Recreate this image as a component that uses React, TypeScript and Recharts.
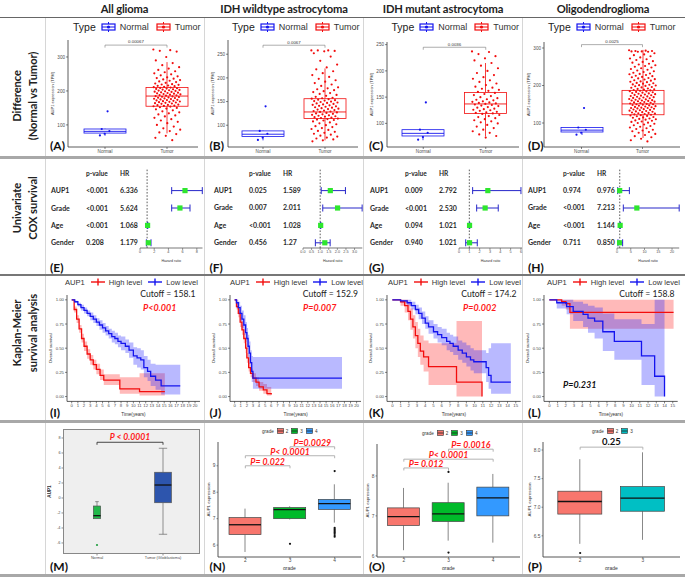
import React from 'react';
import {
  ComposedChart,
  Bar,
  Cell,
  Scatter,
  Line,
  Area,
  XAxis,
  YAxis,
  ReferenceLine,
  ReferenceDot,
  ErrorBar,
} from 'recharts';

const LATO = 'Lato, "Open Sans", sans-serif';
const SANS = '"Liberation Sans", Arial, sans-serif';
const RED = '#f20d0d';
const BLUE = '#1414ee';
const AXIS = '#333';
const TICKC = '#4d4d4d';

// ---------- row 1: AUP1 expression (TPM), Normal vs Tumor ----------
const typeGroups = ['Normal', 'Tumor'];
const normalTPM = [88, 82, 74, 69, 140];
const normalBox = [68, 76, 81, 88, 89]; // min, q1, median, q3, max
const tumorTPM = [
  [322, 320, 318, 316, 300, 290, 282, 276, 270, 266, 262, 258, 255, 252, 249, 246, 243, 240, 238, 236, 234, 232, 230, 228, 226, 224, 222, 220, 219, 218, 216, 215, 214, 212, 211, 210, 209, 208, 207, 206, 205, 204, 203, 202, 201, 200, 199, 198, 197, 196, 195, 194, 193, 192, 191, 190, 189, 188, 187, 186, 185, 184, 183, 182, 181, 180, 179, 178, 177, 176, 175, 174, 173, 172, 171, 170, 169, 168, 167, 166, 165, 164, 163, 162, 160, 159, 158, 157, 156, 155, 154, 152, 150, 148, 146, 143, 140, 137, 134, 131, 128, 125, 121, 117, 113, 109, 105, 100, 95, 90, 86, 82, 78, 73, 68, 62, 55],
  [258, 258, 258, 257, 256, 252, 245, 236, 228, 222, 218, 214, 210, 206, 202, 198, 195, 192, 189, 186, 183, 180, 178, 176, 174, 172, 170, 168, 166, 164, 162, 160, 158, 157, 156, 155, 154, 153, 152, 151, 150, 149, 148, 147, 146, 145, 144, 143, 142, 141, 140, 139, 138, 137, 136, 135, 134, 133, 132, 131, 130, 129, 128, 127, 126, 125, 124, 123, 122, 121, 120, 119, 118, 117, 116, 115, 114, 113, 112, 111, 110, 108, 106, 104, 102, 100, 98, 96, 94, 92, 90, 88, 86, 84, 82, 80, 78, 76, 74, 72, 70, 68, 66],
  [237, 236, 232, 228, 224, 220, 215, 210, 205, 200, 196, 192, 188, 185, 182, 179, 176, 173, 170, 168, 166, 164, 162, 160, 158, 156, 154, 152, 150, 148, 146, 145, 144, 142, 141, 140, 139, 138, 137, 136, 135, 134, 133, 131, 130, 128, 127, 126, 125, 124, 122, 121, 120, 119, 118, 116, 114, 112, 110, 108, 106, 104, 102, 100, 97, 94, 91, 88, 85, 82, 79, 76, 73],
  [294, 293, 292, 292, 291, 291, 290, 290, 286, 283, 281, 278, 275, 272, 270, 268, 265, 263, 261, 258, 256, 254, 252, 250, 248, 246, 244, 242, 240, 238, 236, 234, 232, 231, 230, 228, 226, 225, 223, 222, 220, 219, 217, 216, 214, 213, 211, 210, 209, 207, 206, 205, 203, 202, 201, 200, 199, 198, 196, 195, 194, 192, 191, 190, 189, 188, 187, 186, 185, 184, 183, 182, 181, 180, 179, 178, 177, 176, 175, 174, 173, 172, 171, 170, 169, 168, 167, 166, 165, 164, 163, 162, 161, 160, 160, 159, 158, 157, 156, 155, 154, 153, 152, 151, 150, 150, 149, 148, 147, 146, 145, 144, 143, 142, 141, 140, 140, 139, 138, 137, 136, 135, 134, 133, 132, 131, 130, 129, 128, 127, 126, 125, 124, 123, 122, 121, 120, 119, 118, 116, 115, 114, 112, 111, 110, 109, 107, 106, 104, 103, 101, 100, 98, 96, 94, 92, 90, 88, 86, 84, 82, 80, 78, 76, 74, 71, 68, 65, 62, 58, 54, 51],
];
const tumorBox = [
  [75, 155, 185, 210, 285],
  [68, 114, 128, 156, 220],
  [75, 119, 137, 159, 215],
  [60, 122, 151, 187, 295],
];
const diffP = ['0.00067', '0.0067', '0.0036', '0.0025'];
const diffBracket = [335, 269, 245, 309];
const diffDomain = [[35, 350], [54, 280], [55, 255], [36, 316]];
const diffTicks = [[100, 200, 300], [100, 150, 200, 250], [100, 150, 200, 250], [100, 200, 300]];
const diffLayout = [
  { x: 68, y: 40, w: 130, h: 107, padL: 6, padR: 0 },
  { x: 228, y: 40, w: 130, h: 107, padL: 4, padR: 2 },
  { x: 387, y: 42, w: 132, h: 105, padL: 5, padR: 2 },
  { x: 544, y: 42, w: 136, h: 105, padL: 7, padR: 7 },
];

// ---------- row 2: univariate Cox ----------
const coxVars = ['AUP1', 'Grade', 'Age', 'Gender'];
const coxP = [
  ['<0.001', '<0.001', '<0.001', '0.208'],
  ['0.025', '0.007', '<0.001', '0.456'],
  ['0.009', '<0.001', '0.094', '0.940'],
  ['0.974', '<0.001', '<0.001', '0.711'],
];
const coxHR = [
  ['6.336', '5.624', '1.068', '1.179'],
  ['1.589', '2.011', '1.028', '1.27'],
  ['2.792', '2.530', '1.021', '1.021'],
  ['0.976', '7.213', '1.144', '0.850'],
];
const coxLo = [
  [4.46, 4.46, 1.04, 0.9],
  [1.06, 1.15, 1.015, 0.72],
  [1.32, 1.71, 1.0, 0.65],
  [0.25, 2.3, 1.08, 0.35],
];
const coxHi = [
  [8.77, 7.04, 1.1, 1.55],
  [2.47, 3.44, 1.04, 1.58],
  [6.0, 3.8, 1.045, 1.77],
  [4.5, 22.6, 1.21, 2.05],
];
const coxTicks = [[0, 2, 4, 6, 8], [0, 0.5, 1, 1.5, 2, 2.5, 3], [0, 1, 2, 3, 4, 5, 6], [0, 5, 10, 15, 20]];
const coxLayout = [
  { x: 140, w: 62.5, domain: [0, 8.8] },
  { x: 302.5, w: 59.3, domain: [0, 3.45] },
  { x: 459, w: 63, domain: [0, 6.1] },
  { x: 617, w: 62.2, domain: [0, 22.6] },
];

// ---------- row 3: Kaplan-Meier ----------
const kmHigh = [
  {
    t: [0, 0.4, 0.8, 1.2, 1.6, 2.0, 2.5, 3.0, 3.5, 4.0, 4.6, 5.2, 7.8, 11.0, 15.1],
    s: [1, 0.9, 0.8, 0.7, 0.6, 0.52, 0.44, 0.38, 0.33, 0.28, 0.22, 0.17, 0.08, 0.05, 0.05],
    lo: [1, 0.87, 0.76, 0.66, 0.56, 0.47, 0.39, 0.33, 0.28, 0.23, 0.17, 0.12, 0.03, 0.01, 0.01],
    hi: [1, 0.93, 0.84, 0.74, 0.65, 0.57, 0.49, 0.43, 0.38, 0.34, 0.28, 0.23, 0.2, 0.24, 0.24],
  },
  {
    t: [0, 0.3, 0.6, 0.9, 1.2, 1.5, 1.8, 2.0, 2.3, 2.6, 3.0, 3.5, 4.0, 4.7, 5.3, 6.0],
    s: [1, 0.93, 0.86, 0.77, 0.69, 0.6, 0.5, 0.4, 0.3, 0.24, 0.19, 0.15, 0.1, 0.07, 0.03, 0.02],
    lo: [1, 0.9, 0.82, 0.72, 0.64, 0.55, 0.45, 0.35, 0.26, 0.2, 0.15, 0.11, 0.06, 0.03, 0.01, 0.0],
    hi: [1, 0.96, 0.9, 0.82, 0.74, 0.65, 0.55, 0.45, 0.35, 0.29, 0.24, 0.2, 0.15, 0.13, 0.1, 0.08],
  },
  {
    t: [0, 1.0, 1.5, 1.9, 2.2, 2.5, 2.8, 3.1, 3.4, 3.8, 4.4, 7.8, 10.9],
    s: [1, 0.98, 0.94, 0.88, 0.8, 0.72, 0.63, 0.55, 0.47, 0.41, 0.31, 0.15, 0.0],
    lo: [1, 0.94, 0.87, 0.79, 0.69, 0.6, 0.5, 0.41, 0.33, 0.26, 0.12, 0.0, 0.0],
    hi: [1, 1.0, 1.0, 0.97, 0.91, 0.84, 0.77, 0.7, 0.63, 0.58, 0.55, 0.78, 0.78],
  },
  {
    t: [0, 1.5, 2.0, 2.5, 15.1],
    s: [1, 0.98, 0.96, 0.87, 0.87],
    lo: [1, 0.94, 0.9, 0.7, 0.7],
    hi: [1, 1, 1, 1, 1],
  },
];
const kmLow = [
  {
    t: [0, 0.5, 1, 1.5, 2, 2.5, 3, 3.5, 4, 4.5, 5, 5.5, 6, 6.5, 7, 7.5, 8, 8.7, 9.3, 10, 10.6, 11.2, 11.7, 12.3, 12.8, 13.6, 14.5, 17.6],
    s: [1, 0.98, 0.95, 0.92, 0.89, 0.86, 0.83, 0.8, 0.77, 0.74, 0.71, 0.68, 0.65, 0.62, 0.6, 0.57, 0.55, 0.52, 0.48, 0.42, 0.4, 0.38, 0.3, 0.26, 0.21, 0.17, 0.11, 0.11],
    lo: [1, 0.97, 0.93, 0.89, 0.86, 0.83, 0.79, 0.76, 0.73, 0.69, 0.66, 0.63, 0.6, 0.56, 0.54, 0.51, 0.48, 0.45, 0.4, 0.33, 0.3, 0.28, 0.2, 0.16, 0.11, 0.07, 0.02, 0.02],
    hi: [1, 0.99, 0.97, 0.95, 0.92, 0.89, 0.87, 0.84, 0.81, 0.79, 0.76, 0.73, 0.7, 0.68, 0.66, 0.63, 0.62, 0.59, 0.56, 0.51, 0.5, 0.48, 0.42, 0.38, 0.34, 0.33, 0.33, 0.33],
  },
  {
    t: [0, 0.3, 0.6, 0.9, 1.2, 1.5, 1.8, 2.0, 2.2, 2.4, 2.6, 2.8, 3.0, 4.0, 17.6],
    s: [1, 0.97, 0.92, 0.86, 0.8, 0.74, 0.66, 0.6, 0.52, 0.45, 0.35, 0.26, 0.19, 0.19, 0.19],
    lo: [1, 0.92, 0.85, 0.78, 0.71, 0.64, 0.56, 0.49, 0.41, 0.34, 0.24, 0.15, 0.08, 0.08, 0.08],
    hi: [1, 1.0, 0.98, 0.94, 0.89, 0.84, 0.77, 0.71, 0.64, 0.57, 0.48, 0.42, 0.41, 0.41, 0.41],
  },
  {
    t: [0, 1.0, 1.8, 2.3, 2.8, 3.2, 3.6, 4.0, 4.4, 5.0, 5.5, 6.0, 6.6, 7.0, 7.4, 8.0, 8.5, 9.0, 9.5, 9.9, 11.4, 11.7, 12.0, 14.4],
    s: [1, 0.99, 0.97, 0.94, 0.9, 0.86, 0.81, 0.76, 0.72, 0.67, 0.64, 0.61, 0.57, 0.55, 0.52, 0.48, 0.45, 0.41, 0.38, 0.36, 0.3, 0.22, 0.15, 0.15],
    lo: [1, 0.97, 0.94, 0.9, 0.85, 0.8, 0.75, 0.7, 0.65, 0.6, 0.56, 0.53, 0.48, 0.46, 0.43, 0.38, 0.35, 0.31, 0.27, 0.24, 0.15, 0.08, 0.03, 0.03],
    hi: [1, 1.0, 1.0, 0.98, 0.95, 0.92, 0.88, 0.83, 0.79, 0.75, 0.72, 0.7, 0.66, 0.64, 0.62, 0.58, 0.56, 0.53, 0.5, 0.48, 0.45, 0.5, 0.55, 0.55],
  },
  {
    t: [0, 0.9, 2.1, 2.9, 4.1, 4.7, 5.5, 6.5, 7.9, 11.2, 12.8, 14.0],
    s: [1, 0.97, 0.93, 0.88, 0.85, 0.81, 0.78, 0.67, 0.57, 0.42, 0.21, 0.0],
    lo: [1, 0.91, 0.85, 0.78, 0.72, 0.66, 0.6, 0.47, 0.38, 0.12, 0.0, 0.0],
    hi: [1, 1, 1, 0.98, 0.96, 0.94, 0.92, 0.86, 0.8, 0.75, 1.0, 1.0],
  },
];
const kmCutoff = ['158.1', '152.9', '174.2', '158.8'];
const kmP = ['P<0.001', 'P=0.007', 'P=0.002', 'P=0.231'];
const kmTicks20 = [0, 1, 2, 3, 4, 5, 6, 7, 8, 9, 10, 11, 12, 13, 14, 15, 16, 17, 18, 19, 20];
const kmTicks15 = [0, 1, 2, 3, 4, 5, 6, 7, 8, 9, 10, 11, 12, 13, 14, 15];
const kmLayout = [
  { x: 67, w: 133, domain: [-0.76, 20.8], ticks: kmTicks20 },
  { x: 229.7, w: 131.5, domain: [-0.76, 20.8], ticks: kmTicks20 },
  { x: 387, w: 133.7, domain: [-0.65, 15.6], ticks: kmTicks15 },
  { x: 544, w: 133.7, domain: [-0.65, 15.6], ticks: kmTicks15 },
];

// ---------- row 4: expression by grade ----------
const mCats = ['Normal', 'Tumor (Glioblastoma)'];
const mStats = [[-2.8, -2.76, -2.36, -1.07, -0.49], [-4.84, -0.63, 1.73, 3.43, 6.63]];
const mOut = [[-6.27], []];
const gradeCats3 = ['2', '3', '4'];
const gradeCats2 = ['2', '3'];
const nStats = [[5.74, 6.4, 6.77, 7.04, 7.38], [6.97, 7.0, 7.34, 7.42, 7.47], [6.85, 7.35, 7.57, 7.73, 8.3]];
const nOut = [[], [6.05], [8.8, 6.65, 6.6, 6.55, 6.5, 6.45, 6.38, 6.32]];
const oStats = [[6.14, 6.76, 6.98, 7.2, 7.7], [6.38, 6.86, 7.05, 7.33, 7.83], [6.33, 7.0, 7.45, 7.72, 8.05]];
const oOut = [[], [8.1, 6.08], []];
const pStats = [[6.36, 6.88, 7.1, 7.28, 7.84], [6.43, 6.93, 7.16, 7.36, 7.96]];
const pOut = [[6.2], []];
const mBrackets = [{ a: 1, b: 2, y: 7.43, text: 'P < 0.0001' }];
const nBrackets = [
  { a: 1, b: 2, y: 9.0, text: 'P= 0.022' },
  { a: 1, b: 3, y: 9.38, text: 'P< 0.0001' },
  { a: 2, b: 3, y: 9.72, text: 'P=0.0029' },
];
const oBrackets = [
  { a: 1, b: 2, y: 8.2, text: 'P= 0.012' },
  { a: 1, b: 3, y: 8.42, text: 'P< 0.0001' },
  { a: 2, b: 3, y: 8.67, text: 'P= 0.0016' },
];
const pBrackets = [{ a: 1, b: 2, y: 8.05, text: '0.25' }];

const GRADE2 = '#f8766d';
const GRADE3 = '#00ba2a';
const GRADE4 = '#3399ff';
const TEAL = '#00bfc4';

// horizontal jitter offset for strip points (presentation only)
const spread = (k: number, w: number) => (((k * 0.6180339) % 1) - 0.5) * 2 * w;

function Txt({ x, y, children, size = 8, weight = 400, italic = false, color = '#222', font = LATO, align = 'center', rotate = 0, ls = 0 }: any) {
  const tx = align === 'center' ? '-50%' : align === 'right' ? '-100%' : '0';
  return (
    <div
      style={{
        position: 'absolute',
        left: x,
        top: y,
        transform: `translate(${tx}, -50%) rotate(${rotate}deg)`,
        fontSize: size,
        fontWeight: weight,
        fontStyle: italic ? 'italic' : 'normal',
        letterSpacing: ls,
        color,
        fontFamily: font,
        whiteSpace: 'nowrap',
        lineHeight: 1,
      }}
    >
      {children}
    </div>
  );
}

// box drawn inside the [min,max] range bar
const boxShape = (opt: any) => (props: any) => {
  const { x, y, width, height, payload, index } = props;
  if (!payload || !payload.stats) return null;
  const [mn, q1, md, q3, mx] = payload.stats;
  const h = Math.abs(height);
  const yy = (v: number) => y + (h * (mx - v)) / (mx - mn || 1);
  const cx = x + width / 2;
  const bw = Array.isArray(opt.width) ? opt.width[index] : opt.width;
  const stroke = opt.stroke[index];
  const fill = opt.fill[index];
  const capW = opt.caps ? bw * 0.5 : 0;
  return (
    <g>
      <line x1={cx} x2={cx} y1={yy(mx)} y2={yy(q3)} stroke={opt.whisker || stroke} strokeWidth={opt.sw} />
      <line x1={cx} x2={cx} y1={yy(q1)} y2={yy(mn)} stroke={opt.whisker || stroke} strokeWidth={opt.sw} />
      {opt.caps && <line x1={cx - capW / 2} x2={cx + capW / 2} y1={yy(mx)} y2={yy(mx)} stroke={opt.whisker} strokeWidth={opt.sw} />}
      {opt.caps && mn < q1 - 0.05 && <line x1={cx - capW / 2} x2={cx + capW / 2} y1={yy(mn)} y2={yy(mn)} stroke={opt.whisker} strokeWidth={opt.sw} />}
      <rect x={cx - bw / 2} y={yy(q3)} width={bw} height={yy(q1) - yy(q3)} fill={fill} stroke={stroke} strokeWidth={opt.sw} />
      <line x1={cx - bw / 2} x2={cx + bw / 2} y1={yy(md)} y2={yy(md)} stroke={opt.median || stroke} strokeWidth={opt.msw} />
    </g>
  );
};

const dotShape = (color: string, r: number) => (p: any) => <circle cx={p.cx} cy={p.cy} r={r} fill={color} />;

const textShape = (text: string, style: any) => (p: any) => (
  <text x={p.cx} y={p.cy - style.dy} textAnchor="middle" {...style.attrs}>
    {text}
  </text>
);

const tickStyle = (size: number) => ({ fontSize: size, fill: TICKC, fontFamily: SANS });

// category tick drawn as one plain line (no wrapping)
const plainTick = (size: number) => (p: any) => (
  <text x={p.x} y={p.y} dy={size * 0.72} textAnchor="middle" fontSize={size} fill={TICKC} fontFamily={SANS}>
    {p.payload.value}
  </text>
);

function TypeLegend({ x }: any) {
  const icon = (c: string) => (
    <svg width={15} height={10} style={{ margin: '0 4px' }}>
      <line x1={7.5} y1={0} x2={7.5} y2={10} stroke={c} strokeWidth={1} />
      <rect x={1} y={2} width={13} height={6} fill="#fff" stroke={c} strokeWidth={1.2} />
      <line x1={1} y1={5} x2={14} y2={5} stroke={c} strokeWidth={1} />
      <circle cx={7.5} cy={5} r={1.6} fill={c} />
    </svg>
  );
  return (
    <div style={{ position: 'absolute', left: x, top: 21, display: 'flex', alignItems: 'center', fontFamily: SANS, color: '#222', whiteSpace: 'nowrap', height: 12 }}>
      <span style={{ fontSize: 10.5, marginRight: 1 }}>Type</span>
      {icon(BLUE)}
      <span style={{ fontSize: 9, color: '#333', marginRight: 3 }}>Normal</span>
      {icon(RED)}
      <span style={{ fontSize: 9, color: '#333' }}>Tumor</span>
    </div>
  );
}

function DiffPanel({ i }: any) {
  const L = diffLayout[i];
  const yw = 18, xh = 12, mt = 6;
  const dom = diffDomain[i];
  const boxes = [
    { name: typeGroups[0], stats: normalBox, range: [normalBox[0], normalBox[4]] },
    { name: typeGroups[1], stats: tumorBox[i], range: [tumorBox[i][0], tumorBox[i][4]] },
  ];
  const nPts = normalTPM.map((v, k) => ({ x: 1 + spread(k + 2, 0.1), y: v }));
  const tPts = tumorTPM[i].map((v, k) => ({ x: 2 + spread(k, 0.22), y: v }));
  const drop = ((dom[1] - dom[0]) * 2.5) / L.h;
  const by = diffBracket[i];
  const bracket = [
    { x: 1, y: by - drop },
    { x: 1, y: by },
    { x: 2, y: by },
    { x: 2, y: by - drop },
  ];
  return (
    <div style={{ position: 'absolute', left: L.x - yw, top: L.y - mt }}>
      <ComposedChart width={yw + L.w} height={mt + L.h + xh} data={boxes} margin={{ top: mt, right: 0, left: 0, bottom: 0 }}>
        <XAxis xAxisId="cat" dataKey="name" type="category" interval={0} padding={{ left: L.padL, right: L.padR }}
          tick={plainTick(4.6)} tickSize={2} tickMargin={1} height={xh}
          axisLine={{ stroke: AXIS, strokeWidth: 0.8 }} tickLine={{ stroke: AXIS, strokeWidth: 0.6 }} />
        <XAxis xAxisId="num" dataKey="x" type="number" domain={[0.5, 2.5]} padding={{ left: L.padL, right: L.padR }} hide />
        <YAxis dataKey="y" type="number" domain={dom} ticks={diffTicks[i]} allowDataOverflow width={yw}
          tick={tickStyle(4.6)} tickSize={2} tickMargin={1}
          axisLine={{ stroke: AXIS, strokeWidth: 0.8 }} tickLine={{ stroke: AXIS, strokeWidth: 0.6 }}
          label={{ value: 'AUP1 expression (TPM)', angle: -90, position: 'insideLeft', offset: 3, style: { fontSize: 4, fill: '#333', fontFamily: SANS, textAnchor: 'middle' } }} />
        <Bar xAxisId="cat" dataKey="range" barSize={42} isAnimationActive={false}
          shape={boxShape({ width: 42, stroke: [BLUE, RED], fill: ['#fff', '#fff'], sw: 0.8, msw: 0.9 })}>
          {boxes.map((b) => (
            <Cell key={b.name} />
          ))}
        </Bar>
        <Scatter xAxisId="num" data={tPts} shape={dotShape(RED, 1.1)} isAnimationActive={false} />
        <Scatter xAxisId="num" data={nPts} shape={dotShape(BLUE, 1.1)} isAnimationActive={false} />
        <Line xAxisId="num" data={bracket} dataKey="y" type="linear" stroke="#777" strokeWidth={0.6} dot={false} isAnimationActive={false} />
        <ReferenceDot xAxisId="num" x={1.5} y={by} r={0}
          shape={textShape(diffP[i], { dy: 1.6, attrs: { fontSize: 4.4, fill: '#333', fontFamily: SANS } })} />
      </ComposedChart>
    </div>
  );
}

function CoxPanel({ i }: any) {
  const L = coxLayout[i];
  const top = 168, h = 80, yw = 95, xh = 16;
  const pts = coxVars.map((v, k) => {
    const hr = Number(coxHR[i][k]);
    return { name: v, hr, row: k + 1, err: [hr - coxLo[i][k], coxHi[i][k] - hr] };
  });
  const tick = (p: any) => {
    const k = p.payload.value;
    const cells = k === 0 ? ['', 'p-value', 'HR'] : [coxVars[k - 1], coxP[i][k - 1], coxHR[i][k - 1]];
    return (
      <g fontFamily={LATO} fontWeight={700} fill="#2a2a2a" fontSize={k === 0 ? 6.6 : 7}>
        <text x={p.x - 89} y={p.y + 2.5}>{cells[0]}</text>
        <text x={p.x - 54} y={p.y + 2.5}>{cells[1]}</text>
        <text x={p.x - 20} y={p.y + 2.5}>{cells[2]}</text>
      </g>
    );
  };
  const fmt = (v: number) => (i === 1 ? v.toFixed(1) : String(v));
  return (
    <div style={{ position: 'absolute', left: L.x - yw, top }}>
      <ComposedChart width={yw + L.w + 2} height={h + xh} margin={{ top: 0, right: 2, left: 0, bottom: 0 }}>
        <XAxis dataKey="hr" type="number" domain={L.domain} ticks={coxTicks[i]} interval={0} allowDataOverflow
          tickFormatter={fmt} tick={tickStyle(3.8)} tickSize={2} tickMargin={0.5} height={xh}
          axisLine={{ stroke: '#555', strokeWidth: 0.8 }} tickLine={{ stroke: '#555', strokeWidth: 0.6 }}
          label={{ value: 'Hazard ratio', position: 'insideBottom', offset: 2, style: { fontSize: 3.6, fill: '#333', fontFamily: SANS } }} />
        <YAxis dataKey="row" type="number" domain={[-0.3, 4.3]} ticks={[0, 1, 2, 3, 4]} interval={0} reversed width={yw}
          axisLine={false} tickLine={false} tickSize={0} tickMargin={0} tick={tick} />
        <ReferenceLine x={1} stroke="#333" strokeWidth={0.8} strokeDasharray="1.6 1.6" />
        <Scatter data={pts} isAnimationActive={false}
          shape={(p: any) => <rect x={p.cx - 2.6} y={p.cy - 2.6} width={5.2} height={5.2} fill="#2ee62e" />}>
          <ErrorBar dataKey="err" direction="x" width={3.5} stroke="#2626c9" strokeWidth={1} />
        </Scatter>
      </ComposedChart>
    </div>
  );
}

const kmRows = (c: any) => c.t.map((t: number, k: number) => ({ t, s: c.s[k], band: [c.lo[k], c.hi[k]] }));

function KMLegend({ x }: any) {
  const icon = (c: string) => (
    <svg width={14} height={8} style={{ margin: '0 4px' }}>
      <line x1={0} y1={4} x2={14} y2={4} stroke={c} strokeWidth={1.4} />
      <line x1={7} y1={0.5} x2={7} y2={7.5} stroke={c} strokeWidth={1.4} />
    </svg>
  );
  return (
    <div style={{ position: 'absolute', left: x, top: 277, display: 'flex', alignItems: 'center', fontFamily: SANS, fontSize: 7.6, color: '#333', whiteSpace: 'nowrap', height: 10 }}>
      <span style={{ marginRight: 2 }}>AUP1</span>
      {icon(RED)}
      <span style={{ marginRight: 2 }}>High level</span>
      {icon(BLUE)}
      <span>Low level</span>
    </div>
  );
}

function KMPanel({ i }: any) {
  const L = kmLayout[i];
  const yw = 20, xh = 16, top = 295.2, h = 106.4;
  const hiRows = kmRows(kmHigh[i]);
  const loRows = kmRows(kmLow[i]);
  return (
    <div style={{ position: 'absolute', left: L.x - yw, top }}>
      <ComposedChart width={yw + L.w} height={h + xh} margin={{ top: 0, right: 0, left: 0, bottom: 0 }}>
        <XAxis dataKey="t" type="number" domain={L.domain} ticks={L.ticks} interval={0} allowDataOverflow
          tick={tickStyle(4.3)} tickSize={2} tickMargin={0.5} height={xh}
          axisLine={{ stroke: AXIS, strokeWidth: 0.8 }} tickLine={{ stroke: AXIS, strokeWidth: 0.6 }}
          label={{ value: 'Time(years)', position: 'insideBottom', offset: 1, style: { fontSize: 4.6, fill: '#333', fontFamily: SANS } }} />
        <YAxis type="number" domain={[-0.05, 1.05]} ticks={[0, 0.25, 0.5, 0.75, 1]} interval={0} allowDataOverflow width={yw}
          tickFormatter={(v: number) => v.toFixed(2)} tick={tickStyle(4.3)} tickSize={2} tickMargin={1}
          axisLine={{ stroke: AXIS, strokeWidth: 0.8 }} tickLine={{ stroke: AXIS, strokeWidth: 0.6 }}
          label={{ value: 'Overall survival', angle: -90, position: 'insideLeft', offset: 3, style: { fontSize: 4.4, fill: '#333', fontFamily: SANS, textAnchor: 'middle' } }} />
        <Area data={hiRows} dataKey="band" type="stepAfter" fill="#ff2a2a" fillOpacity={0.33} stroke="none" isAnimationActive={false} />
        <Area data={loRows} dataKey="band" type="stepAfter" fill="#2a2aff" fillOpacity={0.33} stroke="none" isAnimationActive={false} />
        <Line data={hiRows} dataKey="s" type="stepAfter" stroke={RED} strokeWidth={1.3} dot={false} isAnimationActive={false} />
        <Line data={loRows} dataKey="s" type="stepAfter" stroke={BLUE} strokeWidth={1.3} dot={false} isAnimationActive={false} />
      </ComposedChart>
    </div>
  );
}

function GradeLegend({ x, y, colors, labels }: any) {
  return (
    <div style={{ position: 'absolute', left: x, top: y - 4, display: 'flex', alignItems: 'center', fontFamily: SANS, fontSize: 4.6, color: '#333', whiteSpace: 'nowrap', height: 8 }}>
      <span style={{ marginRight: 3 }}>grade</span>
      {colors.map((c: string, k: number) => (
        <React.Fragment key={k}>
          <svg width={7} height={6} style={{ marginRight: 2 }}>
            <rect x={0.5} y={0.5} width={6} height={5} fill={c} stroke="#333" strokeWidth={0.6} />
            <line x1={0.5} y1={3} x2={6.5} y2={3} stroke="#222" strokeWidth={0.8} />
          </svg>
          <span style={{ marginRight: 3 }}>{labels[k]}</span>
        </React.Fragment>
      ))}
    </div>
  );
}

function GradePanel({ cfg }: any) {
  const { x, y, w, h, padL, padR, domain, ticks, cats, stats, outliers, brackets, box, yw, xh, ylabel, xlabel, text, gray, tickSize, fmt } = cfg;
  const mt = 12;
  const n = cats.length;
  const rows = cats.map((c: string, k: number) => ({ name: c, stats: stats[k], range: [stats[k][0], stats[k][4]] }));
  const outPts: any[] = [];
  outliers.forEach((arr: number[], k: number) => arr.forEach((v) => outPts.push({ x: k + 1, y: v })));
  const drop = ((domain[1] - domain[0]) * 2.5) / h;
  return (
    <div style={{ position: 'absolute', left: x - yw, top: y - mt }}>
      <ComposedChart width={yw + w} height={mt + h + xh} data={rows} margin={{ top: mt, right: 0, left: 0, bottom: 0 }}>
        <XAxis xAxisId="cat" dataKey="name" type="category" interval={0} padding={{ left: padL, right: padR }}
          tick={plainTick(tickSize)} tickSize={1.5} tickMargin={0.5} height={xh}
          axisLine={gray ? false : { stroke: '#444', strokeWidth: 0.9 }} tickLine={{ stroke: '#444', strokeWidth: 0.6 }}
          label={xlabel ? { value: xlabel, position: 'insideBottom', offset: 0, style: { fontSize: 5, fill: '#333', fontFamily: SANS } } : undefined} />
        <XAxis xAxisId="num" dataKey="x" type="number" domain={[0.5, n + 0.5]} padding={{ left: padL, right: padR }} hide />
        <YAxis dataKey="y" type="number" domain={domain} ticks={ticks} interval={0} allowDataOverflow width={yw}
          tickFormatter={fmt} tick={tickStyle(tickSize)} tickSize={1.5} tickMargin={1}
          axisLine={gray ? false : { stroke: '#444', strokeWidth: 0.9 }} tickLine={{ stroke: '#444', strokeWidth: 0.6 }}
          label={{ value: ylabel, angle: -90, position: 'insideLeft', offset: 2, style: { fontSize: gray ? 4.6 : 4.4, fontWeight: gray ? 700 : 400, fill: '#333', fontFamily: SANS, textAnchor: 'middle' } }} />
        <Bar xAxisId="cat" dataKey="range" barSize={Array.isArray(box.width) ? 20 : box.width}
          isAnimationActive={false} shape={boxShape(box)}>
          {rows.map((r: any) => (
            <Cell key={r.name} />
          ))}
        </Bar>
        <Scatter xAxisId="num" data={outPts} shape={dotShape(cfg.outColor || '#111', 1.1)} isAnimationActive={false} />
        {brackets.map((b: any, k: number) => (
          <Line key={`b${k}`} xAxisId="num" type="linear" dataKey="y" stroke={cfg.bracketColor} strokeWidth={cfg.bracketW} dot={false} isAnimationActive={false}
            data={[{ x: b.a, y: b.y - drop }, { x: b.a, y: b.y }, { x: b.b, y: b.y }, { x: b.b, y: b.y - drop }]} />
        ))}
        {brackets.map((b: any, k: number) => (
          <ReferenceDot key={`t${k}`} xAxisId="num" x={(b.a + b.b) / 2} y={b.y} r={0} ifOverflow="visible"
            shape={textShape(b.text, text)} />
        ))}
      </ComposedChart>
    </div>
  );
}

const redText = (size: number) => ({ dy: 1.2, attrs: { fontSize: size, fill: '#ff1a1a', fontFamily: LATO, fontWeight: 700, fontStyle: 'italic' } });

const gradePanels = [
  {
    x: 63, y: 429, w: 137, h: 125, padL: 1, padR: 4, domain: [-7.47, 9.2], ticks: [-6, -4, -2, 0, 2, 4, 6, 8],
    cats: mCats, stats: mStats, outliers: mOut, brackets: mBrackets, yw: 16, xh: 10, ylabel: 'AUP1', gray: true, tickSize: 3.8,
    box: { width: [7.3, 16.7], stroke: ['#555', '#555'], fill: ['#22b84a', '#2d55ad'], whisker: '#666', median: '#111', sw: 0.7, msw: 1.3, caps: true },
    text: { dy: 2.5, attrs: { fontSize: 8.6, fill: '#ff1a1a', fontFamily: LATO, fontWeight: 700, fontStyle: 'italic' } },
    bracketColor: '#333', bracketW: 0.9, outColor: '#1f9e3f',
  },
  {
    x: 218, y: 442, w: 143, h: 115, padL: 5, padR: 4, domain: [5.55, 9.9], ticks: [6, 7, 8, 9],
    cats: gradeCats3, stats: nStats, outliers: nOut, brackets: nBrackets, yw: 12, xh: 13, ylabel: 'AUP1  expression', xlabel: 'grade', tickSize: 4.8,
    box: { width: 32, stroke: ['#444', '#444', '#444'], fill: [GRADE2, GRADE3, GRADE4], whisker: '#555', median: '#111', sw: 0.7, msw: 1.3 },
    text: redText(8.8), bracketColor: '#aaa', bracketW: 0.9,
  },
  {
    x: 377, y: 444, w: 143, h: 113, padL: 4.5, padR: 4.5, domain: [5.97, 8.8], ticks: [6, 7, 8],
    cats: gradeCats3, stats: oStats, outliers: oOut, brackets: oBrackets, yw: 12, xh: 13, ylabel: 'AUP1  expression', xlabel: 'grade', tickSize: 4.8,
    box: { width: 32, stroke: ['#444', '#444', '#444'], fill: [GRADE2, GRADE3, GRADE4], whisker: '#555', median: '#111', sw: 0.7, msw: 1.3 },
    text: redText(8.8), bracketColor: '#aaa', bracketW: 0.9,
  },
  {
    x: 543, y: 442, w: 137, h: 115, padL: 5.8, padR: 5.8, domain: [6.13, 8.14], ticks: [6.5, 7, 7.5, 8], fmt: (v: number) => v.toFixed(1),
    cats: gradeCats2, stats: pStats, outliers: pOut, brackets: pBrackets, yw: 16, xh: 13, ylabel: 'AUP1  expression', xlabel: 'grade', tickSize: 4.8,
    box: { width: 44, stroke: ['#444', '#444'], fill: [GRADE2, TEAL], whisker: '#555', median: '#111', sw: 0.7, msw: 1.3 },
    text: { dy: 2, attrs: { fontSize: 9.5, fill: '#111', fontFamily: LATO, fontWeight: 700 } }, bracketColor: '#aaa', bracketW: 0.9,
  },
];

const hLine = (y: number, t: number, c: string) => (
  <div key={`h${y}`} style={{ position: 'absolute', left: 0, top: y, width: 685, height: t, background: c }} />
);
const vLine = (x: number) => (
  <div key={`v${x}`} style={{ position: 'absolute', left: x, top: 17, width: 1, height: 558, background: '#d6d6d6' }} />
);

export default function App() {
  const colX = [50, 209.5, 369, 528];
  const letters = [['(A)', '(B)', '(C)', '(D)'], ['(E)', '(F)', '(G)', '(H)'], ['(I)', '(J)', '(K)', '(L)'], ['(M)', '(N)', '(O)', '(P)']];
  const letterY = [146, 268, 413, 567];
  const head = { size: 11.2, weight: 700, ls: -0.15 };
  const side = { size: 11.2, weight: 700, rotate: -90, ls: -0.1 };
  return (
    <div style={{ position: 'relative', width: 685, height: 579, background: '#fff', overflow: 'hidden' }}>
      <style>{'body{margin:0}'}</style>
      {[45, 204, 363, 522].map(vLine)}
      {hLine(17, 1, '#666')}
      {hLine(156, 2.5, '#a8a8a8')}
      {hLine(274, 1.5, '#777')}
      {hLine(420, 2.5, '#a8a8a8')}
      {hLine(574, 2.5, '#a8a8a8')}

      <Txt x={124.5} y={8.5} {...head}>All glioma</Txt>
      <Txt x={284} y={8.5} {...head}>IDH wildtype astrocytoma</Txt>
      <Txt x={443} y={8.5} {...head}>IDH mutant astrocytoma</Txt>
      <Txt x={603} y={8.5} {...head}>Oligodendroglioma</Txt>

      <Txt x={17} y={96} {...side}>Difference</Txt>
      <Txt x={33} y={96} {...side}>(Normal vs Tumor)</Txt>
      <Txt x={17} y={208} {...side}>Univariate</Txt>
      <Txt x={33} y={208} {...side}>COX survival</Txt>
      <Txt x={17} y={333} {...side}>Kaplan-Meier</Txt>
      <Txt x={33} y={333} {...side}>survival analysis</Txt>

      {[73, 232, 391.5, 548].map((x) => (
        <TypeLegend key={x} x={x} />
      ))}
      {[0, 1, 2, 3].map((i) => (
        <DiffPanel key={`d${i}`} i={i} />
      ))}
      {[0, 1, 2, 3].map((i) => (
        <CoxPanel key={`c${i}`} i={i} />
      ))}

      {[65, 230, 388, 547].map((x) => (
        <KMLegend key={x} x={x} />
      ))}
      {[0, 1, 2, 3].map((i) => (
        <KMPanel key={`k${i}`} i={i} />
      ))}
      {[195.5, 358, 516.5, 674.5].map((x, i) => (
        <Txt key={`cut${i}`} x={x} y={293.5} size={8.6} align="right" color="#222">Cutoff = {kmCutoff[i]}</Txt>
      ))}
      <Txt x={143} y={307} size={9} weight={700} italic color="#ff1a1a" align="left">{kmP[0]}</Txt>
      <Txt x={303} y={307} size={9} weight={700} italic color="#ff1a1a" align="left">{kmP[1]}</Txt>
      <Txt x={463} y={307} size={9} weight={700} italic color="#ff1a1a" align="left">{kmP[2]}</Txt>
      <Txt x={563} y={384} size={9} weight={700} italic color="#111" align="left">{kmP[3]}</Txt>

      <div style={{ position: 'absolute', left: 63, top: 429, width: 137, height: 125, background: '#efefef', border: '1px solid #888', boxSizing: 'border-box' }} />
      {gradePanels.map((cfg, i) => (
        <GradePanel key={`g${i}`} cfg={cfg} />
      ))}
      <GradeLegend x={262} y={431} colors={[GRADE2, GRADE3, GRADE4]} labels={gradeCats3} />
      <GradeLegend x={422} y={433} colors={[GRADE2, GRADE3, GRADE4]} labels={gradeCats3} />
      <GradeLegend x={592} y={431} colors={[GRADE2, TEAL]} labels={gradeCats2} />

      {letters.map((row, r) =>
        row.map((l, c) => (
          <Txt key={l} x={colX[c]} y={letterY[r]} size={12} weight={700} align="left" color="#111">{l}</Txt>
        )),
      )}
    </div>
  );
}
